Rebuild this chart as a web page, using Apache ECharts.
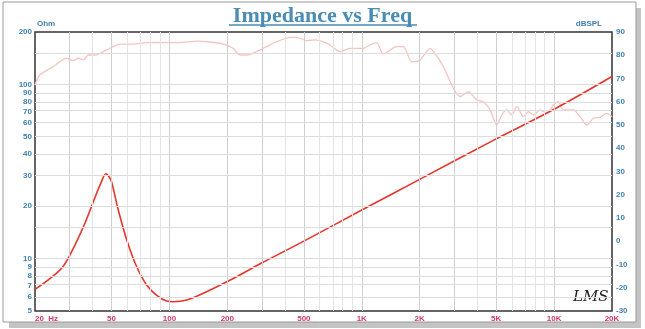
<!DOCTYPE html>
<html>
<head>
<meta charset="utf-8">
<script src="https://cdn.jsdelivr.net/npm/echarts@6/dist/echarts.min.js"></script>
<style>
html,body{margin:0;padding:0;background:#ffffff;}
#chart{width:645px;height:329px;}
</style>
</head>
<body>
<div id="chart"></div>
<script>
// ---- data ----
var impFreq = [20, 24, 28, 32.3, 36.4, 40.2, 44, 46.8, 48.5, 50, 54.2, 60, 67.5, 76.1, 85.6, 96.7, 104.6, 123, 156, 206, 300, 500, 1000, 2000, 5000, 10000, 20000];
var impOhm  = [6.66, 7.7, 9.0, 12.0, 16.0, 21.2, 27.1, 30.7, 29.5, 27.6, 19.0, 12.8, 9.0, 7.05, 6.17, 5.7, 5.65, 5.78, 6.45, 7.5, 9.4, 12.6, 19.0, 28.5, 48.7, 72, 111];

var splFreq = [20, 21.2, 24.9, 29.2, 31.6, 33.6, 35.7, 37.9, 41.0, 47.2,
  55.3, 64.9, 76.2, 92.6, 113.5, 138.7, 162.6, 190.7, 214, 232.8,
  252.3, 307.9, 361, 423.7, 459, 517.6, 571, 631, 684, 771,
  869, 1019, 1104, 1196, 1295, 1520, 1646, 1818, 2010, 2265,
  2404, 2655, 2994, 3245, 3584, 3963, 4288, 4646, 5034, 5346,
  5677, 6027, 6399, 6922, 7349, 7802, 8452, 9160, 9912, 10524,
  11172, 12594, 13646, 14788, 16006, 17350, 18796, 20000];
var splDb = [67.2, 71.5, 75.1, 78.7, 77.7, 78.7, 78.0, 80.1, 80.1, 82.3,
  84.8, 84.8, 85.4, 85.4, 85.4, 86.1, 85.7, 84.8, 83.0, 80.1,
  80.1, 83.0, 85.8, 87.7, 87.7, 86.3, 86.6, 85.8, 84.4, 81.5,
  83.0, 83.0, 84.4, 85.4, 80.5, 83.7, 83.7, 77.2, 78.0, 83.0,
  80.8, 75.1, 65.8, 62.2, 64.3, 60.8, 60.0, 56.5, 50.0, 54.3,
  56.5, 54.3, 57.9, 53.6, 55.7, 54.3, 56.5, 55.0, 58.6, 60.0,
  56.5, 56.5, 53.6, 50.0, 52.9, 53.3, 55.0, 53.6];

var freqTicks  = [20, 50, 100, 200, 500, 1000, 2000, 5000, 10000, 20000];
var freqLabels = ['20  Hz', '50', '100', '200', '500', '1K', '2K', '5K', '10K', '20K'];
var ohmTicks   = [5, 6, 7, 8, 9, 10, 20, 30, 40, 50, 60, 70, 80, 90, 100, 200];
var freqGridMajor = [30, 50, 100, 200, 300, 500, 1000, 2000, 3000, 5000, 10000];
var freqGridMinor = [40, 60, 70, 80, 90, 400, 600, 700, 800, 900, 4000, 6000, 7000, 8000, 9000];
var ohmGrid = [6, 7, 8, 9, 10, 15, 20, 30, 40, 50, 60, 70, 80, 90, 100, 150];

// ---- build ----
var L = Math.log10;
var impData = impFreq.map(function (f, i) { return [L(f), L(impOhm[i])]; });
var splData = splFreq.map(function (f, i) { return [L(f), splDb[i]]; });

var gridLines = [];
freqGridMinor.forEach(function (f) { gridLines.push({ xAxis: L(f), lineStyle: { color: '#e4e4e4' } }); });
freqGridMajor.forEach(function (f) { gridLines.push({ xAxis: L(f), lineStyle: { color: '#cfcfcf' } }); });
ohmGrid.forEach(function (o) { gridLines.push({ yAxis: L(o), lineStyle: { color: '#dcdcdc' } }); });

var blue = '#3f80b0';
var labelFont = { fontFamily: 'Liberation Sans', fontWeight: 'bold', fontSize: 8 };

var chart = echarts.init(document.getElementById('chart'), null, { renderer: 'canvas' });
chart.setOption({
  animation: false,
  title: {
    text: 'Impedance vs Freq', left: 'center', top: 0,
    textStyle: { fontFamily: 'Liberation Serif', fontWeight: 'bold', fontSize: 22, color: '#4a8cb4' }
  },
  graphic: [
    { type: 'rect', z: -20, shape: { x: 9, y: 8, width: 632, height: 320 }, style: { fill: '#c4c4c4' } },
    { type: 'rect', z: -10, shape: { x: 3, y: 2, width: 633, height: 320 }, style: { fill: '#ffffff', stroke: '#9a9a9a', lineWidth: 1 } },
    { type: 'line', shape: { x1: 229, y1: 25, x2: 417, y2: 25 }, style: { stroke: '#4a8cb4', lineWidth: 1.5 } },
    { type: 'text', left: 37, top: 20, style: { text: 'Ohm', fill: blue, font: 'bold 8px "Liberation Sans"' } },
    { type: 'text', right: 43, top: 20, style: { text: 'dBSPL', fill: blue, font: 'bold 8px "Liberation Sans"' } },
    { type: 'text', left: 573, top: 290, style: { text: 'LMS', fill: '#222222', font: 'italic 15px "DejaVu Serif"' } }
  ],
  grid: { left: 35, right: 33, top: 32, bottom: 18, show: true, borderColor: '#333333', borderWidth: 1.5, backgroundColor: 'transparent' },
  xAxis: {
    type: 'value', min: L(20), max: L(20000),
    axisLine: { show: false }, axisTick: { show: false }, splitLine: { show: false },
    axisLabel: Object.assign({
      color: '#d2386a', margin: 4,
      customValues: freqTicks.map(L),
      alignMinLabel: 'left',
      formatter: function (v) {
        for (var i = 0; i < freqTicks.length; i++) { if (Math.abs(L(freqTicks[i]) - v) < 1e-6) return freqLabels[i]; }
        return '';
      }
    }, labelFont)
  },
  yAxis: [
    {
      type: 'value', min: L(5), max: L(200),
      axisLine: { show: false }, axisTick: { show: false }, splitLine: { show: false },
      axisLabel: Object.assign({
        color: blue, margin: 3,
        customValues: ohmTicks.map(L),
        formatter: function (v) { return String(Math.round(Math.pow(10, v))); }
      }, labelFont)
    },
    {
      type: 'value', min: -30, max: 90, interval: 10, position: 'right',
      axisLine: { show: false }, axisTick: { show: false }, splitLine: { show: false },
      axisLabel: Object.assign({ color: blue, margin: 4 }, labelFont)
    }
  ],
  series: [
    {
      type: 'line', data: [], z: 1, silent: true,
      markLine: { silent: true, symbol: ['none', 'none'], label: { show: false }, animation: false,
        lineStyle: { type: 'solid', width: 1 }, data: gridLines }
    },
    {
      type: 'line', yAxisIndex: 1, data: splData, smooth: 0.25, showSymbol: false, z: 2, silent: true,
      lineStyle: { color: '#f5c5bd', width: 1.3 }
    },
    {
      type: 'line', yAxisIndex: 0, data: impData, smooth: 0.35, showSymbol: false, z: 3, silent: true,
      lineStyle: { color: '#e8352c', width: 1.6 }
    }
  ]
});
</script>
</body>
</html>
